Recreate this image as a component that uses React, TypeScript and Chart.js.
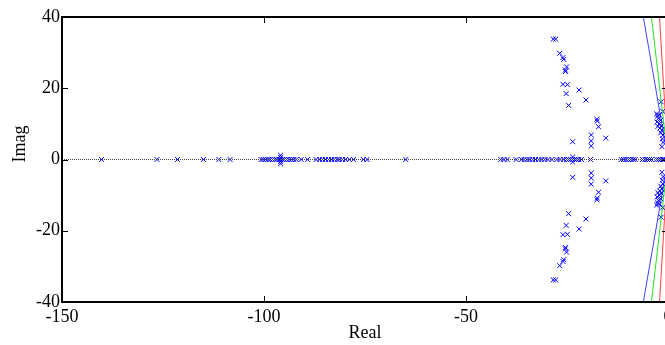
import { useEffect, useRef } from "react";
import { Chart, registerables } from "chart.js";

Chart.register(...registerables);

// Tick labels
const xTicks = [-150, -100, -50, 0];
const yTicks = [-40, -20, 0, 20, 40];

// Poles on the real axis (imag = 0)
const realPoles = [
  -140.2, -126.5, -121.4, -115, -111.2, -108.4,
  -100.7, -100.2, -99.6, -99.0, -98.5, -97.9, -97.3, -96.8, -96.2, -95.9, -95.5, -95.0,
  -94.4, -93.8, -93.2, -92.6, -92.0, -90.8, -89.2,
  -87.1, -86.2, -85.5, -84.8, -84.0, -83.3, -82.6, -81.9, -81.4, -80.6, -79.8, -78.9,
  -77.8, -75.4, -74.5, -64.9,
  -41.4, -40.6, -39.8, -37.6, -36.3, -35.6, -34.9, -34.2, -33.5, -32.8,
  -32.0, -31.2, -30.5, -29.7, -28.7, -27.5, -26.7, -25.8,
  -25.1, -24.6, -24.1, -23.6, -23.1, -22.6, -22.1, -21.4, -19.2,
  -11.6, -11.0, -10.4, -9.8, -9.2, -8.6, -8.1,
  -6.3, -5.7, -5.1, -4.6, -4.1, -2.8, -2.3, -1.8, -1.4, -1.1,
];

// Complex poles, upper half-plane (conjugates are drawn too)
const complexRe = [
  -95.9, -95.9, -23.6,
  -28.4, -27.8, -26.8, -26.0, -25.8, -25.4, -25.4, -25.1, -26.0, -24.9, -25.2, -24.6,
  -22.0, -20.3, -17.6, -17.5, -17.2, -19.0, -19.0, -19.0, -15.4, -23.6,
  -2.8, -2.6, -2.4, -2.1, -1.8, -2.7, -2.2, -1.6, -2.0, -1.5, -1.8, -1.3, -1.4, -1.2,
  -1.5, -1.7, -1.3, -2.5,
];
const complexIm = [
  1.2, 0.6, 0.7,
  33.8, 33.8, 29.8, 28.6, 28.1, 25.1, 24.7, 26.0, 21.1, 21.0, 18.5, 15.2,
  19.5, 16.7, 11.3, 10.8, 9.2, 6.9, 5.2, 3.8, 6.0, 5.0,
  12.8, 12.2, 11.5, 12.5, 11.0, 10.5, 10.0, 9.5, 8.8, 8.2, 7.5, 6.8, 5.8, 4.8,
  3.6, 16.2, 13.5, 9.3,
];

// Damping-ratio lines: real part reached at |imag| = 40
const dampingRe = [-6.1, -4.1, -2.1];
const dampingColors = ["rgba(0,0,255,0.75)", "rgba(0,220,0,0.85)", "rgba(255,0,0,0.75)"];
const dampingIm = 40;

const FONT = { family: "'Liberation Serif', 'Times New Roman', serif", size: 18 };

const framePlugin = {
  id: "frame",
  afterDraw(chart: any) {
    const { ctx, chartArea: a, scales } = chart;
    ctx.save();
    ctx.strokeStyle = "#000";
    ctx.lineWidth = 2;
    ctx.strokeRect(a.left, a.top, a.right - a.left, a.bottom - a.top);
    const tl = 6;
    ctx.lineWidth = 1;
    ctx.beginPath();
    for (const v of xTicks) {
      const px = Math.round(scales.x.getPixelForValue(v)) + 0.5;
      ctx.moveTo(px, a.bottom);
      ctx.lineTo(px, a.bottom - tl);
      ctx.moveTo(px, a.top);
      ctx.lineTo(px, a.top + tl);
    }
    for (const v of yTicks) {
      const py = Math.round(scales.y.getPixelForValue(v)) + 0.5;
      ctx.moveTo(a.left, py);
      ctx.lineTo(a.left + tl, py);
      ctx.moveTo(a.right, py);
      ctx.lineTo(a.right - tl, py);
    }
    ctx.stroke();
    // y-axis title
    ctx.fillStyle = "#000";
    ctx.font = `${FONT.size}px ${FONT.family}`;
    ctx.textAlign = "center";
    ctx.textBaseline = "middle";
    ctx.translate(20, 144);
    ctx.rotate(-Math.PI / 2);
    ctx.fillText("Imag", 0, 0);
    ctx.restore();
  },
};

export default function App() {
  const ref = useRef<HTMLCanvasElement>(null);
  useEffect(() => {
    const poles = [
      ...realPoles.map((x) => ({ x, y: 0 })),
      ...complexRe.map((x, i) => ({ x, y: complexIm[i] })),
      ...complexRe.map((x, i) => ({ x, y: -complexIm[i] })),
    ];
    const datasets: any[] = [
      {
        data: [{ x: -150, y: 0 }, { x: 0, y: 0 }],
        showLine: true,
        borderColor: "#444",
        borderWidth: 1,
        borderDash: [1, 1],
        pointRadius: 0,
      },
      ...dampingRe.map((re, i) => ({
        data: [{ x: re, y: dampingIm }, { x: 0, y: 0 }, { x: re, y: -dampingIm }],
        showLine: true,
        borderColor: dampingColors[i],
        borderWidth: 1,
        pointRadius: 0,
      })),
      {
        data: poles,
        pointStyle: "crossRot",
        pointRadius: 3.5,
        borderColor: "#0000ff",
        backgroundColor: "#0000ff",
        borderWidth: 1,
        showLine: false,
      },
    ];
    const chart = new Chart(ref.current!, {
      type: "scatter",
      data: { datasets },
      options: {
        responsive: false,
        animation: false,
        layout: { padding: { top: 17, right: 52, left: 0, bottom: 0 } },
        plugins: { legend: { display: false }, tooltip: { enabled: false } },
        scales: {
          x: {
            type: "linear",
            min: -150,
            max: 0,
            afterBuildTicks: (s: any) => {
              s.ticks = xTicks.map((value) => ({ value }));
            },
            afterFit: (s: any) => {
              s.height = 43;
            },
            grid: { display: false, drawTicks: false },
            border: { display: false },
            ticks: { padding: 4, font: FONT, color: "#000", maxRotation: 0, autoSkip: false },
            title: { display: true, text: "Real", font: FONT, color: "#000", padding: { top: 0, bottom: 1 } },
          },
          y: {
            type: "linear",
            min: -40,
            max: 40,
            afterBuildTicks: (s: any) => {
              s.ticks = yTicks.map((value) => ({ value }));
            },
            afterFit: (s: any) => {
              s.width = 62;
            },
            grid: { display: false, drawTicks: false },
            border: { display: false },
            ticks: { padding: 2, font: FONT, color: "#000", autoSkip: false },
            title: { display: false },
          },
        },
      } as any,
      plugins: [framePlugin],
    });
    return () => chart.destroy();
  }, []);
  return (
    <div
      style={{
        position: "fixed",
        left: 0,
        top: 0,
        width: 665,
        height: 345,
        overflow: "hidden",
        background: "#fff",
      }}
    >
      <canvas ref={ref} width={720} height={345} style={{ display: "block" }} />
    </div>
  );
}
